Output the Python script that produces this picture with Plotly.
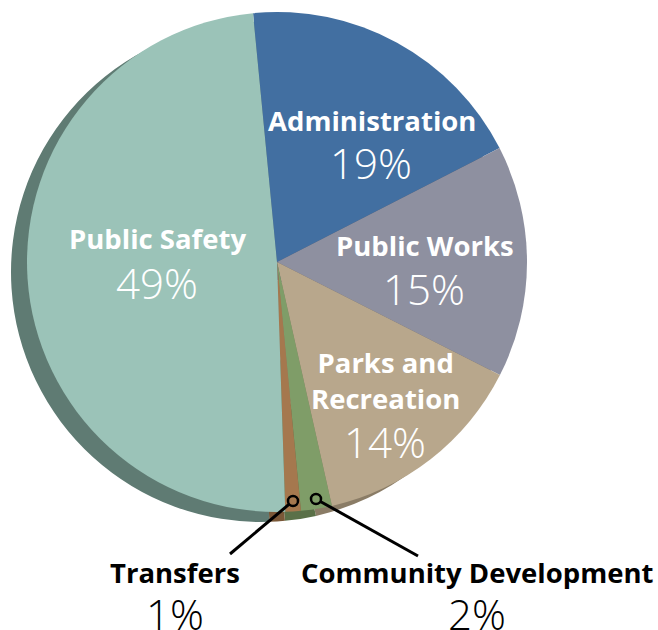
import plotly.graph_objects as go

# Budget share by department (percent of total)
departments = ["Administration", "Public Works", "Parks and<br>Recreation",
               "Community Development", "Transfers", "Public Safety"]
shares = [19, 15, 14, 2, 1, 49]
top_colors = ["#426fa1", "#8e90a0", "#b8a78c", "#7f9d68", "#a5784e", "#9bc3b8"]
side_colors = ["#2c4a6c", "#5f606b", "#8a7c66", "#5a7048", "#7a5838", "#5f7b73"]

W, H = 658, 630
CX, CY, R = 277, 262, 250          # pie centre and radius in pixels
DX, DY = -16, 10                   # depth offset of the pie's side wall
START = -5.5                       # first slice starts just left of 12 o'clock


def px(x):
    return x / W


def py(y):
    return 1 - y / H


def domain(cx, cy):
    return dict(x=[px(cx - R), px(cx + R)], y=[py(cy + R), py(cy - R)])


fig = go.Figure()

# side wall: darker copy of the pie, shifted down-left
fig.add_trace(go.Pie(
    labels=departments, values=shares, sort=False, direction="clockwise",
    rotation=START, domain=domain(CX + DX, CY + DY),
    marker=dict(colors=side_colors, line=dict(width=0)),
    textinfo="none", hoverinfo="skip", showlegend=False,
))

# top face
fig.add_trace(go.Pie(
    labels=departments, values=shares, sort=False, direction="clockwise",
    rotation=START, domain=domain(CX, CY),
    marker=dict(colors=top_colors, line=dict(width=0)),
    textinfo="none", hoverinfo="label+percent", showlegend=False,
))

NAME_FONT = dict(family="Open Sans", size=27.5, weight=700)
PCT_FONT = dict(family="Open Sans", size=42, weight=300)

# label anchor points (pixel centres of name line and percentage line)
inside = {
    "Administration": ((372, 121), (371, 163)),
    "Public Works": ((425, 246), (424, 289)),
    "Parks and<br>Recreation": ((385, 380), (385, 442)),
    "Public Safety": ((157, 238), (157, 282)),
}
outside = {
    "Transfers": ((175, 572), (175, 613)),
    "Community Development": ((477, 572), (477, 613)),
}

annotations = []
for name, share in zip(departments, shares):
    if name in inside:
        (nx, ny), (qx, qy) = inside[name]
        color = "white"
    else:
        (nx, ny), (qx, qy) = outside[name]
        color = "black"
    annotations.append(dict(x=px(nx), y=py(ny), xref="paper", yref="paper",
                            text=name, showarrow=False,
                            font=dict(NAME_FONT, color=color),
                            xanchor="center", yanchor="middle"))
    annotations.append(dict(x=px(qx), y=py(qy), xref="paper", yref="paper",
                            text=f"{share}%", showarrow=False,
                            font=dict(PCT_FONT, color=color),
                            xanchor="center", yanchor="middle"))

# leader lines with hollow ring markers for the two thin slices
leaders = [((293, 501), (230, 554)), ((316, 499), (418, 556))]
shapes = []
rr = 5
for (x0, y0), (x1, y1) in leaders:
    vx, vy = x1 - x0, y1 - y0
    d = (vx * vx + vy * vy) ** 0.5
    sx, sy = x0 + vx / d * rr, y0 + vy / d * rr
    shapes.append(dict(type="line", xref="paper", yref="paper",
                       x0=px(sx), y0=py(sy), x1=px(x1), y1=py(y1),
                       line=dict(color="black", width=3)))
    shapes.append(dict(type="circle", xref="paper", yref="paper",
                       x0=px(x0 - rr), x1=px(x0 + rr),
                       y0=py(y0 + rr), y1=py(y0 - rr),
                       line=dict(color="black", width=2.5)))

fig.update_layout(
    width=W, height=H, margin=dict(l=0, r=0, t=0, b=0),
    paper_bgcolor="white", plot_bgcolor="white",
    annotations=annotations, shapes=shapes,
)

fig.write_html("out.html")
